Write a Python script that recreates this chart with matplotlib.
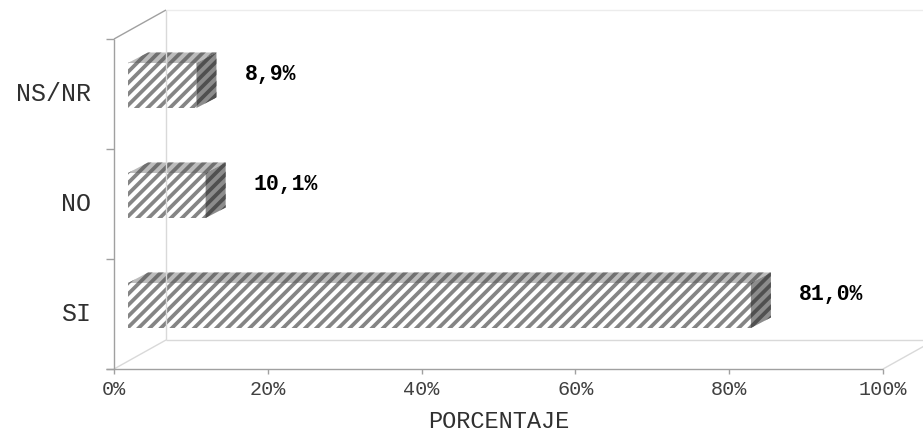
import matplotlib
matplotlib.use('Agg')
import matplotlib.pyplot as plt
from matplotlib.patches import Polygon

# ---------------- data ----------------
categories = ['SI', 'NO', 'NS/NR']
values = [81.0, 10.1, 8.9]
value_labels = ['81,0%', '10,1%', '8,9%']
xticks = [0, 20, 40, 60, 80, 100]
xtick_labels = ['0%', '20%', '40%', '60%', '80%', '100%']
xlabel = 'PORCENTAJE'

# ---------------- style ----------------
FONT = 'Liberation Mono'
plt.rcParams['hatch.linewidth'] = 2.7

W, H = 923, 436
fig = plt.figure(figsize=(W / 100, H / 100), dpi=100)
ax_l, ax_r, ax_b, ax_t = 114, 883, 369, 39
ax = fig.add_axes([ax_l / W, (H - ax_b) / H, (ax_r - ax_l) / W, (ax_b - ax_t) / H])
ax.set_xlim(0, 100)
ax.set_ylim(0, len(categories))
ax.axis('off')

px_x = 100 / (ax_r - ax_l)
px_y = len(categories) / (ax_b - ax_t)

wall_dx, wall_dy = 52 * px_x, 29 * px_y
front_dx, front_dy = 14 * px_x, 8.5 * px_y
depth_dx, depth_dy = 20 * px_x, 10.5 * px_y
bar_h = 45 * px_y

axis_col = '#a0a0a0'
wall_col = '#d9d9d9'
n = len(categories)


def line(xs, ys, color, lw=1.0):
    ax.plot(xs, ys, color=color, lw=lw, clip_on=False, solid_capstyle='butt')


# walls / floor
line([0, wall_dx], [0, wall_dy], wall_col)
line([wall_dx, 100 + wall_dx], [wall_dy, wall_dy], wall_col)
line([100, 100 + wall_dx], [0, wall_dy], wall_col)
line([wall_dx, wall_dx], [wall_dy, n + wall_dy], wall_col)
line([wall_dx, 100 + wall_dx], [n + wall_dy, n + wall_dy], '#ececec')
line([0, wall_dx], [n, n + wall_dy], axis_col)

# front axes
line([-8 * px_x, 100], [0, 0], axis_col)
line([0, 0], [0, n], axis_col)
for k in range(n + 1):
    line([-8 * px_x, 0], [k, k], axis_col)
for t, lab in zip(xticks, xtick_labels):
    line([t, t], [0, -5 * px_y], axis_col)
    ax.text(t, -20 * px_y, lab, ha='center', va='center',
            family=FONT, fontsize=14.5, color='#404040', clip_on=False)
ax.text(50, -52 * px_y, xlabel, ha='center', va='center', family=FONT,
        fontsize=17, color='#303030', clip_on=False)
for i, c in enumerate(categories):
    ax.text(-23 * px_x, i + 0.5, c, ha='right', va='center', family=FONT,
            fontsize=18, color='#303030', clip_on=False)


def face(xy, fc, hc):
    ax.add_patch(Polygon(xy, closed=True, facecolor=fc, edgecolor='none', lw=0,
                         clip_on=False))
    ax.add_patch(Polygon(xy, closed=True, facecolor='none', edgecolor=hc, lw=0,
                         hatch='///', clip_on=False))


for i, v in enumerate(values):
    yc = i + 0.5 + front_dy
    x0 = front_dx
    x1 = front_dx + v
    y0 = yc - bar_h / 2
    y1 = yc + bar_h / 2
    face([(x0, y0), (x1, y0), (x1, y1), (x0, y1)], 'white', '#858585')
    face([(x0, y1), (x1, y1), (x1 + depth_dx, y1 + depth_dy), (x0 + depth_dx, y1 + depth_dy)],
         '#bcbcbc', '#707070')
    face([(x1, y0), (x1 + depth_dx, y0 + depth_dy), (x1 + depth_dx, y1 + depth_dy), (x1, y1)],
         '#8c8c8c', '#505050')
    ax.annotate(value_labels[i], xy=(x1, yc), xytext=(48 * 0.72, 11 * 0.72),
                textcoords='offset points', ha='left', va='center', family=FONT,
                fontsize=15.5, fontweight='bold', color='black', annotation_clip=False)

fig.savefig('out.png', dpi=100)
